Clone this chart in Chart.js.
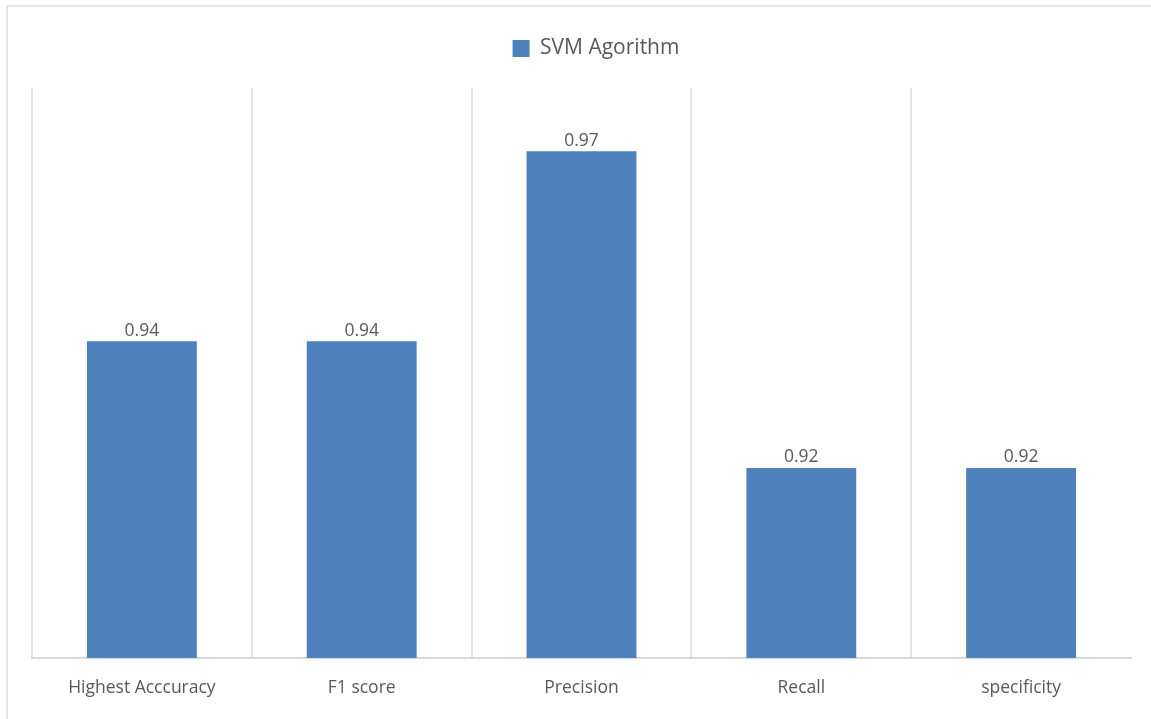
<!DOCTYPE html>
<html>
<head>
<meta charset="utf-8">
<script src="https://cdn.jsdelivr.net/npm/chart.js@4.4.1/dist/chart.umd.min.js"></script>
<style>
  html, body { margin: 0; padding: 0; background: #ffffff; }
  #frame {
    position: absolute; left: 6px; top: 5px; width: 1160px; height: 730px;
    border-left: 2px solid #e6e6e6; border-top: 2px solid #e6e6e6;
  }
  #wrap { position: absolute; left: 0; top: 0; width: 1151px; height: 719px; }
</style>
</head>
<body>
<div id="frame"></div>
<div id="wrap"><canvas id="chart" width="1151" height="719"></canvas></div>
<script>
// Metrics of the SVM classifier
const categories = ['Highest Acccuracy', 'F1 score', 'Precision', 'Recall', 'specificity'];
const svmScores = [0.94, 0.94, 0.97, 0.92, 0.92];
const seriesName = 'SVM Agorithm';

const FONT = "'Open Sans', Lato, sans-serif";
const TEXT = '#595959';

// Writes each bar's value just above it
const valueLabels = {
  id: 'valueLabels',
  afterDatasetsDraw(chart) {
    const ctx = chart.ctx;
    ctx.save();
    ctx.font = '17.5px ' + FONT;
    ctx.fillStyle = TEXT;
    ctx.textAlign = 'center';
    ctx.textBaseline = 'bottom';
    chart.getDatasetMeta(0).data.forEach((bar, i) => {
      ctx.fillText(svmScores[i].toFixed(2), bar.x, bar.y - 2);
    });
    ctx.restore();
  }
};

// Leaves extra room below the legend and nudges it a little to the right
const legendPlacement = {
  id: 'legendPlacement',
  beforeInit(chart) {
    const fit = chart.legend.fit;
    chart.legend.fit = function () {
      fit.call(this);
      this.height += 19;
    };
  },
  afterLayout(chart) {
    chart.legend.left += 29;
  }
};

new Chart(document.getElementById('chart'), {
  type: 'bar',
  data: {
    labels: categories,
    datasets: [{
      label: seriesName,
      data: svmScores,
      backgroundColor: '#4f81bd',
      borderWidth: 0,
      barPercentage: 0.5,
      categoryPercentage: 1.0
    }]
  },
  options: {
    responsive: false,
    animation: false,
    layout: { padding: { left: 32, right: 20, top: 34, bottom: 0 } },
    plugins: {
      legend: {
        position: 'top',
        labels: {
          boxWidth: 17, boxHeight: 17, padding: 4,
          color: TEXT, font: { family: FONT, size: 21 }
        }
      },
      tooltip: { enabled: false }
    },
    scales: {
      y: {
        display: false,
        min: 0.89, max: 0.98
      },
      x: {
        offset: true,
        border: { display: true, color: '#d9d9d9', width: 2 },
        grid: {
          offset: true,
          drawTicks: false,
          lineWidth: 2,
          color: (c) => (c.type === 'tick' ? '#e3e3e3' : 'rgba(0,0,0,0)')
        },
        ticks: {
          color: TEXT, padding: 20,
          font: { family: FONT, size: 17.5 }
        }
      }
    }
  },
  plugins: [valueLabels, legendPlacement]
});
</script>
</body>
</html>
